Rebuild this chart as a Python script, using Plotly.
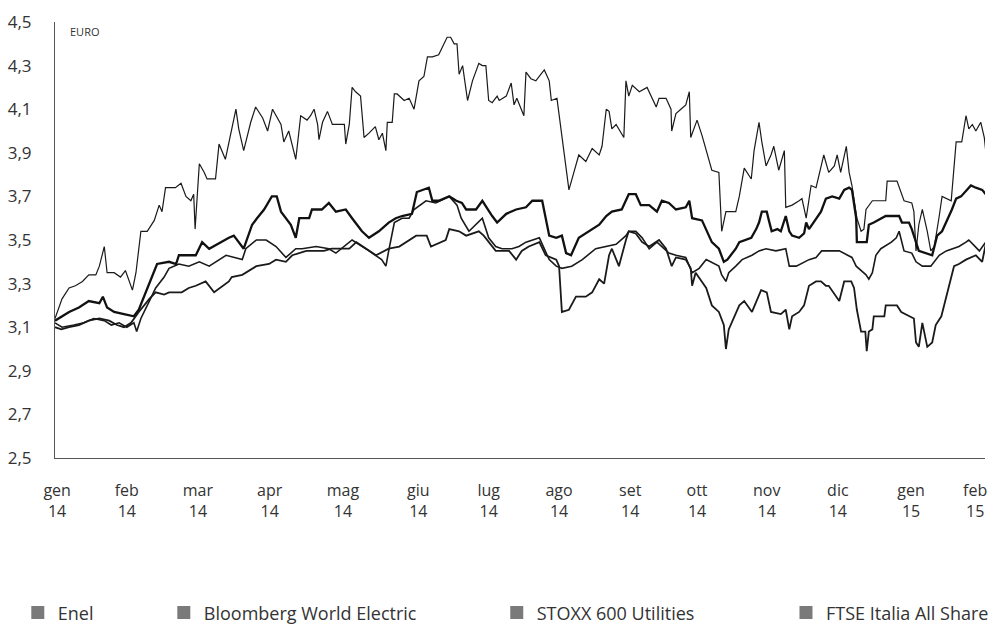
import plotly.graph_objects as go

# x = months since start of January 2014 (0 = gen 14, 13 = feb 15)
month_labels = ["gen<br>14", "feb<br>14", "mar<br>14", "apr<br>14", "mag<br>14", "giu<br>14", "lug<br>14",
                "ago<br>14", "set<br>14", "ott<br>14", "nov<br>14", "dic<br>14", "gen<br>15", "feb<br>15"]
month_ticks = [0.03, 1.02, 2.03, 3.05, 4.09, 5.16, 6.16, 7.16, 8.17, 9.12, 10.11, 11.12, 12.16, 13.07]
y_ticks = [2.5, 2.7, 2.9, 3.1, 3.3, 3.5, 3.7, 3.9, 4.1, 4.3, 4.5]

enel_x = [0.00, 0.10, 0.20, 0.29, 0.39, 0.48, 0.58, 0.63, 0.70, 0.74, 0.84, 0.93, 1.00, 1.07, 1.10, 1.15,
          1.22, 1.31, 1.41, 1.48, 1.52, 1.57, 1.67, 1.71, 1.79, 1.86, 1.93, 1.97, 1.99, 2.02, 2.05, 2.12,
          2.16, 2.28, 2.33, 2.42, 2.52, 2.57, 2.61, 2.68, 2.78, 2.85, 2.95, 3.02, 3.09, 3.16, 3.21, 3.25,
          3.32, 3.42, 3.49, 3.58, 3.63, 3.68, 3.73, 3.75, 3.80, 3.87, 3.94, 4.03, 4.11, 4.13, 4.18, 4.22,
          4.27, 4.34, 4.39, 4.46, 4.55, 4.60, 4.65, 4.70, 4.72, 4.79, 4.82, 4.86, 4.96, 5.03, 5.10, 5.17,
          5.24, 5.29, 5.36, 5.45, 5.57, 5.62, 5.67, 5.71, 5.74, 5.79, 5.86, 5.93, 6.02, 6.07, 6.12, 6.16,
          6.21, 6.28, 6.31, 6.41, 6.48, 6.52, 6.56, 6.66, 6.69, 6.76, 6.83, 6.90, 6.95, 7.02, 7.05, 7.13,
          7.20, 7.26, 7.30, 7.37, 7.44, 7.54, 7.63, 7.73, 7.77, 7.83, 7.87, 7.91, 7.97, 8.08, 8.11, 8.15,
          8.20, 8.30, 8.41, 8.54, 8.58, 8.68, 8.75, 8.76, 8.82, 8.89, 8.96, 9.01, 9.03, 9.12, 9.19, 9.33,
          9.43, 9.47, 9.53, 9.67, 9.72, 9.79, 9.89, 9.93, 10.00, 10.04, 10.10, 10.17, 10.21, 10.28, 10.36,
          10.38, 10.47, 10.57, 10.61, 10.67, 10.74, 10.81, 10.85, 10.92, 10.99, 11.07, 11.11, 11.16, 11.24,
          11.28, 11.32, 11.38, 11.39, 11.45, 11.49, 11.52, 11.61, 11.80, 11.82, 11.96, 12.02, 12.06, 12.17,
          12.20, 12.23, 12.27, 12.32, 12.39, 12.44, 12.49, 12.56, 12.60, 12.73, 12.80, 12.88, 12.94, 12.98,
          13.03, 13.08, 13.15, 13.20, 13.22]
enel_y = [3.14, 3.23, 3.28, 3.29, 3.31, 3.34, 3.34, 3.38, 3.47, 3.35, 3.35, 3.33, 3.36, 3.29, 3.27, 3.35,
          3.54, 3.54, 3.59, 3.66, 3.63, 3.74, 3.74, 3.74, 3.76, 3.70, 3.68, 3.71, 3.55, 3.69, 3.85, 3.81,
          3.78, 3.78, 3.94, 3.87, 4.03, 4.10, 4.01, 3.91, 4.04, 4.11, 4.06, 4.00, 4.10, 4.06, 4.03, 3.95,
          4.00, 3.87, 4.07, 4.05, 4.07, 4.10, 4.03, 3.96, 4.04, 4.09, 4.03, 4.03, 4.03, 3.94, 4.03, 4.20,
          4.18, 4.16, 3.97, 3.99, 4.02, 3.96, 3.99, 3.91, 4.04, 4.04, 4.17, 4.17, 4.14, 4.15, 4.10, 4.23,
          4.25, 4.34, 4.34, 4.35, 4.43, 4.43, 4.40, 4.40, 4.26, 4.30, 4.14, 4.23, 4.31, 4.30, 4.30, 4.14,
          4.13, 4.16, 4.14, 4.16, 4.22, 4.12, 4.15, 4.07, 4.27, 4.24, 4.23, 4.26, 4.28, 4.23, 4.14, 4.15,
          3.97, 3.84, 3.73, 3.81, 3.89, 3.86, 3.92, 3.89, 3.93, 4.10, 4.09, 4.01, 4.03, 3.97, 4.23, 4.16,
          4.21, 4.18, 4.20, 4.11, 4.15, 4.15, 4.10, 4.00, 4.08, 4.10, 4.12, 4.18, 3.97, 4.05, 3.98, 3.82,
          3.81, 3.54, 3.63, 3.63, 3.70, 3.83, 3.78, 3.91, 4.04, 3.95, 3.84, 3.89, 3.93, 3.82, 3.91,
          3.65, 3.66, 3.68, 3.69, 3.60, 3.75, 3.74, 3.80, 3.89, 3.81, 3.84, 3.89, 3.81, 3.93,
          3.81, 3.75, 3.61, 3.60, 3.54, 3.55, 3.64, 3.68, 3.68, 3.77, 3.77, 3.72, 3.68, 3.67,
          3.63, 3.45, 3.57, 3.64, 3.54, 3.45, 3.47, 3.61, 3.70, 3.68, 3.95, 3.95, 4.07, 4.01,
          4.03, 4.00, 4.04, 3.97, 3.91]

bwe_x = [0.00, 0.10, 0.27, 0.41, 0.55, 0.70, 0.80, 0.91, 1.02, 1.12, 1.16, 1.22, 1.34, 1.43, 1.55, 1.62,
         1.76, 1.90, 2.05, 2.19, 2.43, 2.66, 2.71, 2.86, 3.00, 3.14, 3.28, 3.42, 3.51, 3.71, 3.89, 3.99,
         4.22, 4.42, 4.46, 4.64, 4.70, 4.74, 4.82, 4.93, 5.03, 5.10, 5.27, 5.41, 5.60, 5.71, 5.77, 5.88,
         6.07, 6.16, 6.26, 6.35, 6.49, 6.59, 6.69, 6.88, 7.02, 7.12, 7.20, 7.34, 7.49, 7.68, 7.83, 7.97,
         8.11, 8.15, 8.25, 8.34, 8.44, 8.55, 8.72, 8.82, 8.96, 9.05, 9.15, 9.25, 9.43, 9.47, 9.53, 9.57,
         9.67, 9.76, 9.90, 10.00, 10.10, 10.24, 10.38, 10.43, 10.53, 10.71, 10.81, 10.89, 11.04, 11.14,
         11.32, 11.38, 11.52, 11.56, 11.61, 11.66, 11.73, 11.88, 11.95, 11.99, 12.06, 12.17, 12.23, 12.32,
         12.44, 12.56, 12.66, 12.74, 12.84, 12.94, 12.98, 13.13, 13.22]
bwe_y = [3.12, 3.10, 3.11, 3.12, 3.14, 3.13, 3.11, 3.12, 3.10, 3.12, 3.08, 3.14, 3.22, 3.28, 3.33, 3.37,
         3.39, 3.38, 3.40, 3.38, 3.43, 3.41, 3.46, 3.50, 3.50, 3.47, 3.42, 3.46, 3.46, 3.47, 3.46, 3.44,
         3.50, 3.46, 3.45, 3.41, 3.38, 3.45, 3.58, 3.60, 3.60, 3.64, 3.68, 3.67, 3.70, 3.66, 3.60, 3.54,
         3.60, 3.51, 3.47, 3.46, 3.46, 3.47, 3.49, 3.51, 3.41, 3.38, 3.37, 3.38, 3.41, 3.46, 3.47, 3.48,
         3.52, 3.54, 3.54, 3.51, 3.46, 3.49, 3.44, 3.43, 3.42, 3.35, 3.37, 3.41, 3.38, 3.34, 3.31, 3.35,
         3.38, 3.41, 3.43, 3.45, 3.46, 3.45, 3.46, 3.38, 3.38, 3.41, 3.42, 3.45, 3.45, 3.45,
         3.42, 3.38, 3.34, 3.32, 3.35, 3.43, 3.46, 3.49, 3.51, 3.54, 3.45, 3.44, 3.40, 3.38,
         3.38, 3.43, 3.45, 3.46, 3.47, 3.49, 3.50, 3.45, 3.49]

stoxx_x = [0.00, 0.10, 0.20, 0.34, 0.48, 0.63, 0.68, 0.74, 0.84, 0.98, 1.12, 1.19, 1.34, 1.45, 1.62, 1.72,
           1.76, 1.90, 2.00, 2.09, 2.19, 2.47, 2.54, 2.68, 2.80, 2.87, 2.97, 3.08, 3.15, 3.21, 3.35, 3.42,
           3.47, 3.61, 3.65, 3.79, 3.89, 3.99, 4.13, 4.22, 4.36, 4.46, 4.60, 4.74, 4.84, 4.93, 5.07, 5.14,
           5.31, 5.36, 5.45, 5.60, 5.70, 5.78, 5.84, 5.98, 6.07, 6.21, 6.28, 6.41, 6.55, 6.69, 6.78, 6.92,
           7.02, 7.12, 7.20, 7.26, 7.33, 7.44, 7.59, 7.73, 7.83, 7.91, 8.05, 8.15, 8.25, 8.32, 8.44, 8.55,
           8.62, 8.72, 8.82, 8.96, 9.01, 9.05, 9.19, 9.25, 9.33, 9.43, 9.50, 9.55, 9.67, 9.72, 9.82, 9.89,
           9.96, 10.00, 10.04, 10.11, 10.14, 10.18, 10.26, 10.31, 10.38, 10.43, 10.47, 10.57, 10.64, 10.67,
           10.71, 10.81, 10.88, 10.95, 11.04, 11.14, 11.21, 11.28, 11.32, 11.38, 11.39, 11.53, 11.56, 11.63,
           11.80, 11.99, 12.03, 12.13, 12.17, 12.27, 12.46, 12.53, 12.60, 12.74, 12.80, 12.87, 13.01, 13.08,
           13.17, 13.22]
stoxx_y = [3.13, 3.15, 3.17, 3.19, 3.22, 3.21, 3.24, 3.19, 3.17, 3.16, 3.15, 3.18, 3.30, 3.39, 3.40, 3.39,
           3.43, 3.43, 3.43, 3.49, 3.46, 3.51, 3.52, 3.46, 3.57, 3.60, 3.64, 3.70, 3.70, 3.63, 3.57, 3.51,
           3.60, 3.60, 3.64, 3.64, 3.67, 3.63, 3.64, 3.60, 3.54, 3.51, 3.54, 3.58, 3.60, 3.61, 3.62, 3.72,
           3.74, 3.68, 3.68, 3.70, 3.68, 3.67, 3.64, 3.64, 3.68, 3.61, 3.58, 3.62, 3.64, 3.65, 3.68, 3.68,
           3.52, 3.51, 3.52, 3.44, 3.43, 3.51, 3.54, 3.57, 3.61, 3.63, 3.64, 3.71, 3.71, 3.66, 3.66, 3.63,
           3.68, 3.67, 3.64, 3.65, 3.68, 3.60, 3.59, 3.55, 3.49, 3.46, 3.40, 3.41, 3.46, 3.49, 3.50, 3.51,
           3.55, 3.58, 3.63, 3.63, 3.59, 3.54, 3.55, 3.54, 3.61, 3.54, 3.52, 3.51, 3.53, 3.58,
           3.55, 3.60, 3.63, 3.69, 3.70, 3.69, 3.73, 3.74, 3.73, 3.60, 3.49, 3.49, 3.57, 3.58,
           3.61, 3.61, 3.58, 3.58, 3.55, 3.45, 3.43, 3.52, 3.54, 3.64, 3.69, 3.70, 3.75, 3.74,
           3.73, 3.71]

ftse_x = [0.00, 0.09, 0.20, 0.34, 0.48, 0.63, 0.77, 0.88, 0.98, 1.08, 1.19, 1.34, 1.43, 1.55, 1.62, 1.80,
          1.90, 2.00, 2.14, 2.26, 2.47, 2.51, 2.66, 2.71, 2.86, 3.04, 3.14, 3.28, 3.37, 3.57, 3.82, 3.93,
          4.18, 4.28, 4.42, 4.56, 4.74, 4.89, 5.13, 5.28, 5.34, 5.55, 5.60, 5.74, 5.84, 6.02, 6.09, 6.16,
          6.26, 6.45, 6.55, 6.63, 6.73, 6.88, 6.97, 7.12, 7.16, 7.20, 7.30, 7.40, 7.54, 7.63, 7.73, 7.80,
          7.87, 7.91, 8.01, 8.11, 8.15, 8.25, 8.34, 8.44, 8.58, 8.68, 8.76, 8.82, 8.96, 9.03, 9.05, 9.10,
          9.25, 9.33, 9.43, 9.50, 9.53, 9.57, 9.72, 9.79, 9.90, 10.03, 10.11, 10.17, 10.31, 10.38, 10.43,
          10.47, 10.57, 10.64, 10.71, 10.81, 10.88, 10.95, 10.99, 11.14, 11.21, 11.31, 11.35, 11.39, 11.45,
          11.51, 11.53, 11.56, 11.61, 11.63, 11.78, 11.80, 11.96, 12.02, 12.13, 12.20, 12.23, 12.27, 12.32,
          12.39, 12.46, 12.51, 12.59, 12.63, 12.73, 12.77, 12.84, 12.94, 13.08, 13.17, 13.22]
ftse_y = [3.10, 3.09, 3.10, 3.11, 3.13, 3.14, 3.13, 3.11, 3.10, 3.12, 3.17, 3.23, 3.26, 3.25, 3.26, 3.26,
          3.28, 3.29, 3.31, 3.26, 3.31, 3.33, 3.34, 3.35, 3.38, 3.39, 3.41, 3.40, 3.43, 3.45, 3.45, 3.46,
          3.46, 3.49, 3.46, 3.43, 3.46, 3.47, 3.52, 3.52, 3.47, 3.50, 3.55, 3.54, 3.52, 3.54, 3.52, 3.49,
          3.45, 3.45, 3.41, 3.45, 3.47, 3.49, 3.43, 3.41, 3.38, 3.17, 3.18, 3.24, 3.24, 3.26, 3.32, 3.30,
          3.43, 3.46, 3.38, 3.50, 3.54, 3.53, 3.49, 3.47, 3.50, 3.46, 3.38, 3.42, 3.41, 3.37, 3.29, 3.35,
          3.28, 3.20, 3.17, 3.11, 3.00, 3.09, 3.20, 3.22, 3.17, 3.27, 3.26, 3.17, 3.16, 3.18, 3.09,
          3.15, 3.17, 3.20, 3.29, 3.31, 3.31, 3.29, 3.29, 3.22, 3.31, 3.31, 3.28, 3.18, 3.08,
          3.08, 2.99, 3.08, 3.09, 3.15, 3.15, 3.20, 3.20, 3.17, 3.15, 3.14, 3.03, 3.01, 3.12,
          3.01, 3.03, 3.11, 3.15, 3.20, 3.32, 3.38, 3.39, 3.41, 3.43, 3.40, 3.48]

series = [
    ("Enel", enel_x, enel_y, 1.2, "#1a1a1a"),
    ("Bloomberg World Electric", bwe_x, bwe_y, 1.6, "#1a1a1a"),
    ("STOXX 600 Utilities", stoxx_x, stoxx_y, 2.3, "#111111"),
    ("FTSE Italia All Share", ftse_x, ftse_y, 1.8, "#1a1a1a"),
]
legend_pos = [-0.040, 0.117, 0.475, 0.786]

FONT = "Open Sans"
fig = go.Figure()
for name, xs, ys, w, c in series:
    fig.add_trace(go.Scatter(x=xs, y=ys, mode="lines", name=name, showlegend=False,
                             line=dict(color=c, width=w)))

for i, (name, xs, ys, w, c) in enumerate(series):
    lg = "legend" if i == 0 else f"legend{i+1}"
    fig.add_trace(go.Scatter(x=[None], y=[None], mode="markers", name=name, legend=lg,
                             marker=dict(symbol="square", size=13, color="#7a7a7a")))

layout_legends = {}
for i, xp in enumerate(legend_pos):
    key = "legend" if i == 0 else f"legend{i+1}"
    layout_legends[key] = dict(x=xp, y=-0.355, xanchor="left", yanchor="middle",
                               orientation="h", font=dict(family=FONT, size=18, color="#333"),
                               bgcolor="rgba(0,0,0,0)", itemwidth=30, tracegroupgap=0)

fig.update_layout(
    width=1000, height=634,
    margin=dict(l=55, r=15, t=22, b=176, autoexpand=False),
    paper_bgcolor="white", plot_bgcolor="white",
    separators=",.",
    font=dict(family=FONT, size=16, color="#333"),
    **layout_legends,
    annotations=[dict(text="EURO", x=0.014, y=0.979, xref="paper", yref="paper",
                      xanchor="left", yanchor="middle", showarrow=False,
                      font=dict(family=FONT, size=11, color="#333"))],
)
fig.update_xaxes(range=[0, 13.21], tickvals=month_ticks, ticktext=month_labels,
                 showgrid=False, zeroline=False, showline=True, linecolor="#555", linewidth=1.2,
                 ticks="", tickfont=dict(family=FONT, size=16, color="#333"), ticklabelstandoff=18)
fig.update_yaxes(range=[2.5, 4.5], tickvals=y_ticks, tickformat=".1f",
                 showgrid=False, zeroline=False, showline=True, linecolor="#555", linewidth=1.2,
                 ticks="", tickfont=dict(family=FONT, size=17, color="#333"), ticklabelstandoff=19)

fig.write_html("out.html", config={"displayModeBar": False},
               post_script="document.body.style.margin='0';")
